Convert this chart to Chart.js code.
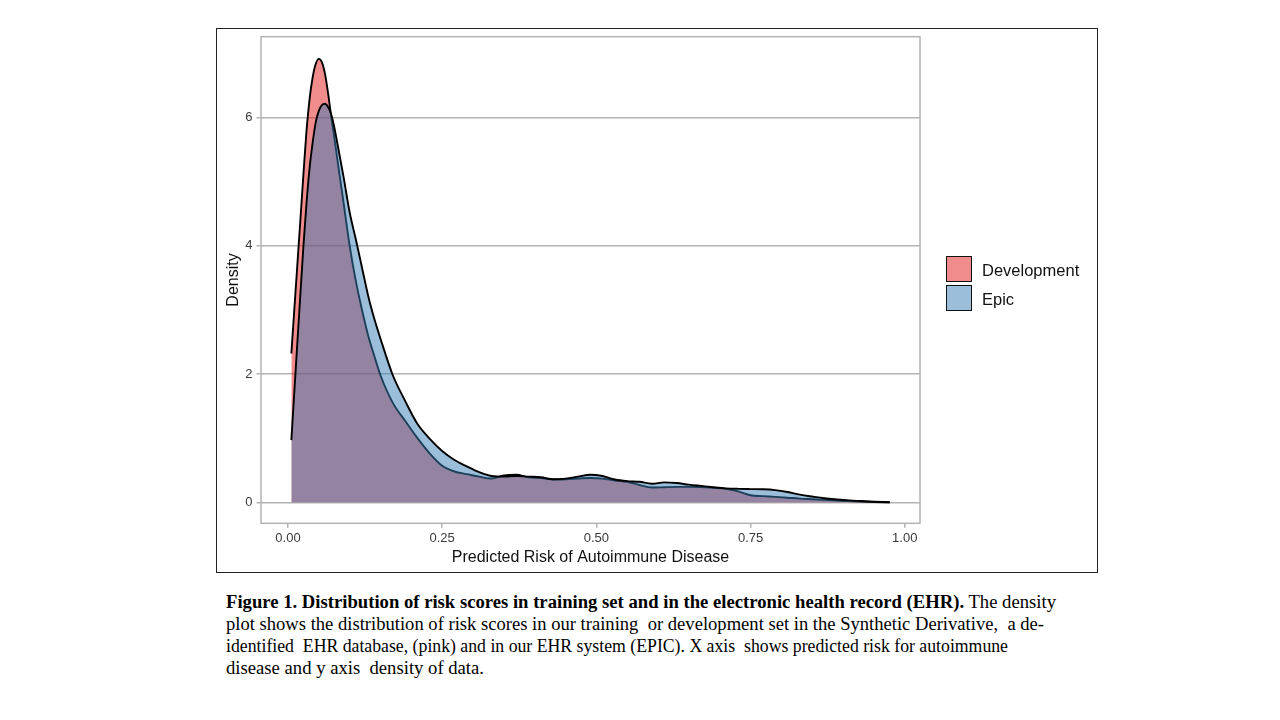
<!DOCTYPE html>
<html>
<head>
<meta charset="utf-8">
<title>Distribution of risk scores</title>
<script src="https://cdn.jsdelivr.net/npm/chart.js@4.4.1/dist/chart.umd.min.js"></script>
<style>
  body { margin: 0; background: #fff; width: 1280px; height: 720px; position: relative; overflow: hidden; }
  #figure { position: absolute; left: 216px; top: 28px; width: 882px; height: 545px; border: 1px solid #222; box-sizing: border-box; }
  #chart-wrap { position: absolute; left: 0; top: 0; width: 880px; height: 543px; }
  .legend { position: absolute; left: 729px; font-family: "Liberation Sans", Arial, sans-serif; font-size: 16.5px; color: #111; }
  .legend .key { position: absolute; left: 0; width: 24px; height: 24px; border: 1.5px solid #111; }
  .legend .label { position: absolute; left: 36px; white-space: nowrap; line-height: 20px; }
  .caption { position: absolute; left: 226px; font-family: "Liberation Serif", "Times New Roman", serif; font-size: 18px; color: #000; white-space: nowrap; transform-origin: 0 0; }
  .caption b { font-weight: bold; }
</style>
</head>
<body>
<div id="figure">
  <div id="chart-wrap"><canvas id="densityChart"></canvas></div>
  <div class="legend" style="top:227px">
    <div class="key" style="background:rgb(241,140,141)"></div>
    <div class="label" style="top:4px">Development</div>
  </div>
  <div class="legend" style="top:255.5px">
    <div class="key" style="background:rgb(155,190,219)"></div>
    <div class="label" style="top:4px">Epic</div>
  </div>
</div>

<div class="caption" data-w="830" style="top:592px"><b>Figure 1. Distribution of risk scores in training set and in the electronic health record (EHR).</b> The density</div>
<div class="caption" data-w="818" style="top:614px">plot shows the distribution of risk scores in our training&nbsp; or development set in the Synthetic Derivative,&nbsp; a de-</div>
<div class="caption" data-w="782" style="top:636px">identified&nbsp; EHR database, (pink) and in our EHR system (EPIC). X axis&nbsp; shows predicted risk for autoimmune</div>
<div class="caption" data-w="258" style="top:658px">disease and y axis&nbsp; density of data.</div>

<script>
// --- data ---
const riskGrid = [0.0055, 0.01, 0.015, 0.02, 0.025, 0.03, 0.035, 0.04, 0.045, 0.05,
  0.055, 0.06, 0.065, 0.07, 0.075, 0.08, 0.09, 0.10, 0.11, 0.12,
  0.13, 0.14, 0.15, 0.17, 0.19, 0.21, 0.23, 0.25, 0.27, 0.29,
  0.31, 0.33, 0.35, 0.37, 0.39, 0.41, 0.43, 0.45, 0.47, 0.49,
  0.51, 0.53, 0.55, 0.57, 0.59, 0.61, 0.63, 0.65, 0.67, 0.69,
  0.71, 0.73, 0.75, 0.77, 0.79, 0.81, 0.83, 0.85, 0.87, 0.89,
  0.91, 0.93, 0.95, 0.9757];

const developmentDensity = [2.32, 2.96, 3.67, 4.38, 5.1, 5.78, 6.28, 6.62, 6.83, 6.91,
  6.86, 6.68, 6.38, 6.02, 5.7, 5.35, 4.68, 4.0, 3.45, 3.0,
  2.6, 2.28, 1.98, 1.55, 1.27, 1.0, 0.76, 0.57, 0.48, 0.44,
  0.40, 0.37, 0.42, 0.43, 0.39, 0.38, 0.355, 0.36, 0.37, 0.38,
  0.37, 0.34, 0.32, 0.27, 0.23, 0.235, 0.24, 0.24, 0.238, 0.225,
  0.21, 0.17, 0.11, 0.097, 0.085, 0.072, 0.058, 0.048, 0.038, 0.028,
  0.018, 0.01, 0.005, 0.001];

const epicDensity = [0.97, 1.67, 2.45, 3.22, 3.98, 4.65, 5.2, 5.6, 5.92, 6.1,
  6.19, 6.21, 6.16, 6.05, 5.85, 5.6, 5.08, 4.52, 4.1, 3.66,
  3.22, 2.86, 2.55, 1.98, 1.58, 1.22, 0.99, 0.8, 0.66, 0.56,
  0.47, 0.41, 0.40, 0.41, 0.40, 0.39, 0.36, 0.37, 0.40, 0.43,
  0.41, 0.355, 0.33, 0.32, 0.29, 0.31, 0.30, 0.275, 0.255, 0.235,
  0.218, 0.21, 0.206, 0.203, 0.19, 0.16, 0.12, 0.09, 0.063, 0.045,
  0.03, 0.02, 0.01, 0.001];

const xTicks = [0, 0.25, 0.5, 0.75, 1.0];
const xTickLabels = ['0.00', '0.25', '0.50', '0.75', '1.00'];
const yTicks = [0, 2, 4, 6];
const yTickLabels = ['0', '2', '4', '6'];

const gridGrey = '#b3b3b3';

// grey frame round the plotting panel, drawn on top like ggplot
const panelBorder = {
  id: 'panelBorder',
  afterDatasetsDraw(chart) {
    const { ctx, chartArea } = chart;
    ctx.save();
    ctx.strokeStyle = gridGrey;
    ctx.lineWidth = 1.5;
    ctx.strokeRect(chartArea.left, chartArea.top, chartArea.right - chartArea.left, chartArea.bottom - chartArea.top);
    ctx.restore();
  }
};

function toPoints(values) {
  return riskGrid.map((x, i) => ({ x: x, y: values[i] }));
}

const ctx = document.getElementById('densityChart').getContext('2d');

new Chart(ctx, {
  type: 'line',
  data: {
    datasets: [
      {
        label: 'Development',
        data: toPoints(developmentDensity),
        backgroundColor: 'rgba(228, 26, 28, 0.5)',
        borderColor: '#000',
        borderWidth: 1.9,
        fill: 'origin',
        order: 2
      },
      {
        label: 'Epic',
        data: toPoints(epicDensity),
        backgroundColor: 'rgba(55, 126, 184, 0.5)',
        borderColor: '#000',
        borderWidth: 1.9,
        fill: 'origin',
        order: 1
      }
    ]
  },
  options: {
    responsive: true,
    maintainAspectRatio: false,
    animation: false,
    events: [],
    layout: { padding: { top: 7.7, right: 177, left: 0, bottom: 0 } },
    elements: {
      point: { radius: 0 },
      line: { cubicInterpolationMode: 'monotone' }
    },
    scales: {
      x: {
        type: 'linear',
        min: -0.0437,
        max: 1.0247,
        afterBuildTicks: (scale) => { scale.ticks = xTicks.map(v => ({ value: v })); },
        afterFit: (scale) => {
          scale.height = 48.7;
          scale.paddingLeft = 0;
          scale.paddingRight = 0;
        },
        ticks: {
          autoSkip: false,
          maxRotation: 0,
          padding: 3,
          color: '#3a3a3a',
          font: { family: 'Liberation Sans', size: 13 },
          callback: (value, index) => xTickLabels[index]
        },
        grid: { drawOnChartArea: false, drawTicks: true, tickLength: 4.5, tickColor: gridGrey, lineWidth: 1.5 },
        border: { display: false },
        title: {
          display: true,
          text: 'Predicted Risk of Autoimmune Disease',
          color: '#111',
          font: { family: 'Liberation Sans', size: 16 },
          padding: { top: 0, bottom: 5 }
        }
      },
      y: {
        type: 'linear',
        min: -0.327,
        max: 7.256,
        afterBuildTicks: (scale) => { scale.ticks = yTicks.map(v => ({ value: v })); },
        afterFit: (scale) => {
          scale.width = 44;
          scale.paddingTop = 0;
          scale.paddingBottom = 0;
        },
        ticks: {
          padding: 4,
          color: '#3a3a3a',
          font: { family: 'Liberation Sans', size: 13 },
          callback: (value, index) => yTickLabels[index]
        },
        grid: { color: gridGrey, lineWidth: 1.5, drawTicks: true, tickLength: 4.5, tickColor: gridGrey },
        border: { display: false },
        title: {
          display: true,
          text: 'Density',
          color: '#111',
          font: { family: 'Liberation Sans', size: 16 },
          padding: { top: 7, bottom: 0 }
        }
      }
    },
    plugins: {
      legend: { display: false },
      tooltip: { enabled: false }
    }
  },
  plugins: [panelBorder]
});

// squeeze caption lines to the widths of the original slide text
document.querySelectorAll('.caption').forEach(el => {
  const target = parseFloat(el.dataset.w);
  const actual = el.getBoundingClientRect().width;
  if (actual > 0) el.style.transform = 'scaleX(' + (target / actual) + ')';
});
</script>
</body>
</html>
